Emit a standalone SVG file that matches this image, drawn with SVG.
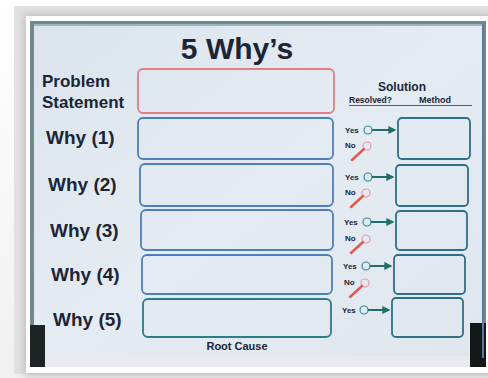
<svg xmlns="http://www.w3.org/2000/svg" width="488" height="378" viewBox="0 0 488 378">
<defs>
<linearGradient id="bg" x1="0" y1="0" x2="0" y2="1">
<stop offset="0" stop-color="#ffffff"/><stop offset="1" stop-color="#f0f0f0"/>
</linearGradient>
<linearGradient id="surf" x1="0" y1="0" x2="1" y2="1">
<stop offset="0" stop-color="#dbe4ed"/><stop offset="0.5" stop-color="#e5ebf2"/><stop offset="1" stop-color="#dfe6ee"/>
</linearGradient>
<filter id="sh" x="-5%" y="-5%" width="110%" height="110%"><feGaussianBlur stdDeviation="4"/></filter>
<marker id="ag" viewBox="0 0 6 6" refX="5" refY="3" markerWidth="4" markerHeight="4" orient="auto"><path d="M0,0 L6,3 L0,6 z" fill="#1f6e6a"/></marker>
</defs>
<style>
.lbl{font-family:"Liberation Sans",Arial,sans-serif;font-weight:bold;fill:#1b2536}
.why{font-size:19px}
.sm{font-size:8px}
.box{fill:none;stroke-width:1.8}
.blue{stroke:#4d7fb8}
.teal{stroke:#2d7d86}
.red{stroke:#e27c86}
.meth{fill:none;stroke:#2f6f87;stroke-width:1.8}
.yes{fill:none;stroke:#2f8a96;stroke-width:1.2}
.yl{stroke:#1f6e6a;stroke-width:2}
.no{fill:none;stroke:#e89aa6;stroke-width:1.2}
.nl{stroke:#e05a55;stroke-width:2.5;stroke-linecap:round}
</style>
<rect x="0" y="0" width="488" height="378" fill="url(#bg)"/>
<rect x="14" y="6" width="474" height="368" fill="#e2e2e2"/>
<rect x="24" y="14" width="470" height="362" fill="#bdbdbd" filter="url(#sh)"/>
<rect x="26" y="16" width="470" height="357" fill="#ffffff"/>
<g id="board">
<rect x="30" y="21" width="456" height="346" fill="#6f8a8c"/>
<rect x="34" y="24" width="448" height="336" fill="url(#surf)"/>
<rect x="30" y="325" width="15" height="42" fill="#1e2424"/>
<rect x="470" y="323" width="16" height="44" fill="#141818"/>
<rect x="45" y="356" width="425" height="11" fill="#e8eaf0"/>
<line x1="34" y1="25" x2="482" y2="25" stroke="#9fb3bd" stroke-width="2"/>
<line x1="483" y1="24" x2="483" y2="358" stroke="#5a7aa0" stroke-width="2"/>
</g>
<g id="title"><text class="lbl" x="237" y="59" font-size="30" text-anchor="middle">5 Why’s</text></g>
<g id="problem">
<text class="lbl" x="42" y="87" font-size="17">Problem</text>
<text class="lbl" x="42" y="108" font-size="17">Statement</text>
<rect class="box red" x="138" y="69" width="196" height="44" rx="5"/>
</g>
<g id="why1"><text class="lbl why" x="46" y="144">Why (1)</text><rect class="box blue" x="138" y="118" width="195" height="41" rx="5"/></g>
<g id="why2"><text class="lbl why" x="48" y="191">Why (2)</text><rect class="box blue" x="140" y="164" width="193" height="42" rx="5"/></g>
<g id="why3"><text class="lbl why" x="50" y="237">Why (3)</text><rect class="box blue" x="141" y="210" width="192" height="40" rx="5"/></g>
<g id="why4"><text class="lbl why" x="51" y="281">Why (4)</text><rect class="box blue" x="142" y="255" width="190" height="39" rx="5"/></g>
<g id="why5"><text class="lbl why" x="53" y="326">Why (5)</text><rect class="box teal" x="143" y="299" width="188" height="38" rx="5"/></g>
<g id="rootcause"><text class="lbl" x="237" y="350" font-size="11" text-anchor="middle">Root Cause</text></g>
<g id="solution">
<text class="lbl" x="402" y="91" font-size="12" text-anchor="middle">Solution</text>
<text class="lbl" x="349" y="103" font-size="8.5">Resolved?</text>
<text class="lbl" x="419" y="103" font-size="9">Method</text>
<line x1="349" y1="105.5" x2="472" y2="105.5" stroke="#3a5f9a" stroke-width="1"/>
</g>
<g id="methods">
<rect class="meth" x="398" y="118" width="72" height="41" rx="4"/>
<rect class="meth" x="396" y="165" width="72" height="41" rx="4"/>
<rect class="meth" x="396" y="211" width="71" height="39" rx="4"/>
<rect class="meth" x="394" y="255" width="71" height="39" rx="4"/>
<rect class="meth" x="392" y="298" width="71" height="39" rx="4"/>
</g>
<g id="yesno">
<text class="lbl sm" x="345" y="133">Yes</text><circle class="yes" cx="368" cy="130" r="4"/>
<text class="lbl sm" x="345" y="148">No</text><circle class="no" cx="367" cy="146" r="4"/>
<text class="lbl sm" x="345" y="180">Yes</text><circle class="yes" cx="368" cy="177" r="4"/>
<text class="lbl sm" x="345" y="195">No</text><circle class="no" cx="366" cy="193" r="4"/>
<text class="lbl sm" x="344" y="225">Yes</text><circle class="yes" cx="367" cy="222" r="4"/>
<text class="lbl sm" x="345" y="241">No</text><circle class="no" cx="366" cy="239" r="4"/>
<text class="lbl sm" x="343" y="269">Yes</text><circle class="yes" cx="366" cy="266" r="4"/>
<text class="lbl sm" x="344" y="285">No</text><circle class="no" cx="365" cy="283" r="4"/>
<text class="lbl sm" x="342" y="313">Yes</text><circle class="yes" cx="364" cy="310" r="4"/>
</g>
<g id="connectors">
<line class="yl" x1="372" y1="130" x2="395" y2="130" marker-end="url(#ag)"/>
<line class="yl" x1="372" y1="177" x2="393" y2="177" marker-end="url(#ag)"/>
<line class="yl" x1="371" y1="222" x2="393" y2="222" marker-end="url(#ag)"/>
<line class="yl" x1="370" y1="266" x2="391" y2="266" marker-end="url(#ag)"/>
<line class="yl" x1="368" y1="310" x2="389" y2="310" marker-end="url(#ag)"/>
<line class="nl" x1="364" y1="149" x2="352" y2="160"/>
<line class="nl" x1="363" y1="196" x2="351" y2="207"/>
<line class="nl" x1="363" y1="242" x2="351" y2="253"/>
<line class="nl" x1="362" y1="286" x2="350" y2="297"/>
</g>
</svg>
